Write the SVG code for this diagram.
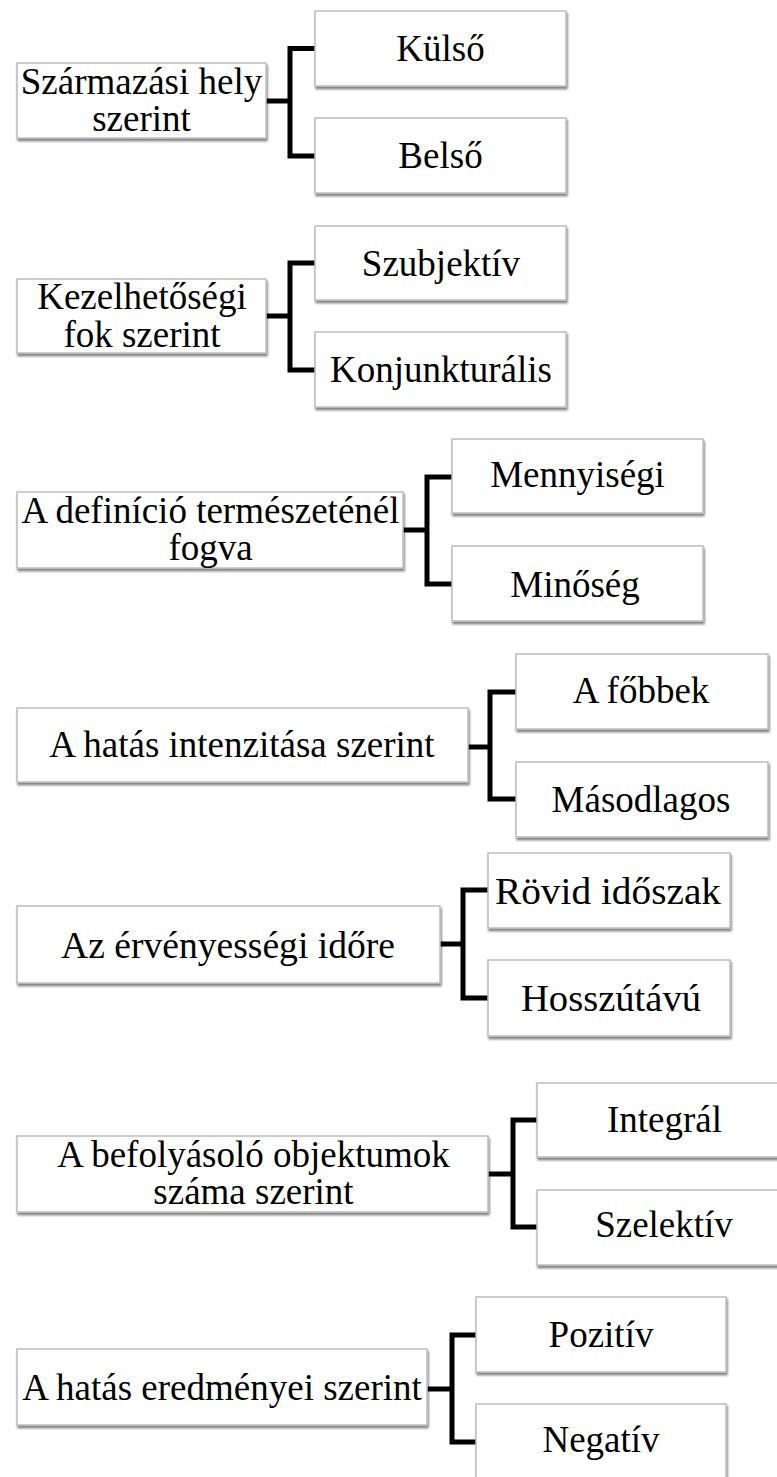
<svg xmlns="http://www.w3.org/2000/svg" width="777" height="1477" viewBox="0 0 777 1477">
<defs>
<filter id="sh" x="-5%" y="-10%" width="110%" height="130%">
<feDropShadow dx="1" dy="2.5" stdDeviation="1.3" flood-color="#000" flood-opacity="0.5"/>
</filter>
<style>
.box{fill:#fff;stroke:#bcbcbc;stroke-width:1.5;filter:url(#sh)}
.t{font-family:"Liberation Serif","Times New Roman",serif;font-size:37px;fill:#000;text-anchor:middle}
.c{fill:none;stroke:#000;stroke-width:5;stroke-linejoin:miter}
</style>
</defs>
<rect width="777" height="1477" fill="#fff"/>
<g id="connectors">
<path class="c" d="M266 101H290M315 48.5H290V156H315"/>
<path class="c" d="M266 316H290M315 263H290V370H315"/>
<path class="c" d="M403 530H427M452 477H427V584H452"/>
<path class="c" d="M468 747H490M516 692H490V799H516"/>
<path class="c" d="M440 944H463M488 890H463V998H488"/>
<path class="c" d="M488 1174H513M537 1120H513V1227H537"/>
<path class="c" d="M427 1389H452M476 1335H452V1442H476"/>
</g>
<g id="n1"><rect class="box" x="17" y="63" width="249" height="75"/><text class="t" x="141.5" y="94">Származási hely</text><text class="t" x="141.5" y="131">szerint</text></g>
<g id="n1a"><rect class="box" x="315" y="11" width="251" height="75"/><text class="t" x="440.5" y="61">Külső</text></g>
<g id="n1b"><rect class="box" x="315" y="118" width="251" height="75"/><text class="t" x="440.5" y="168">Belső</text></g>
<g id="n2"><rect class="box" x="17" y="279" width="249" height="74"/><text class="t" x="142" y="309">Kezelhetőségi</text><text class="t" x="142" y="347">fok szerint</text></g>
<g id="n2a"><rect class="box" x="315" y="226" width="251" height="74"/><text class="t" x="441" y="276">Szubjektív</text></g>
<g id="n2b"><rect class="box" x="315" y="332" width="251" height="75"/><text class="t" x="441" y="382">Konjunkturális</text></g>
<g id="n3"><rect class="box" x="17" y="492" width="386" height="76"/><text class="t" x="210.5" y="523">A definíció természeténél</text><text class="t" x="210.5" y="560">fogva</text></g>
<g id="n3a"><rect class="box" x="452" y="439" width="251" height="74"/><text class="t" x="577.5" y="487">Mennyiségi</text></g>
<g id="n3b"><rect class="box" x="452" y="546" width="251" height="75"/><text class="t" x="575" y="597">Minőség</text></g>
<g id="n4"><rect class="box" x="17" y="708" width="451" height="74"/><text class="t" x="242" y="757">A hatás intenzitása szerint</text></g>
<g id="n4a"><rect class="box" x="516" y="654" width="252" height="75"/><text class="t" x="641" y="703">A főbbek</text></g>
<g id="n4b"><rect class="box" x="516" y="762" width="252" height="75"/><text class="t" x="641" y="812">Másodlagos</text></g>
<g id="n5"><rect class="box" x="17" y="906" width="423" height="77"/><text class="t" x="228" y="958" textLength="334" lengthAdjust="spacingAndGlyphs">Az érvényességi időre</text></g>
<g id="n5a"><rect class="box" x="488" y="853" width="242" height="75"/><text class="t" x="608" y="904" textLength="226" lengthAdjust="spacingAndGlyphs">Rövid időszak</text></g>
<g id="n5b"><rect class="box" x="488" y="960" width="242" height="76"/><text class="t" x="611" y="1011" textLength="180" lengthAdjust="spacingAndGlyphs">Hosszútávú</text></g>
<g id="n6"><rect class="box" x="17" y="1136" width="471" height="76"/><text class="t" x="253.5" y="1167">A befolyásoló objektumok</text><text class="t" x="253.5" y="1204">száma szerint</text></g>
<g id="n6a"><rect class="box" x="537" y="1083" width="250" height="74"/><text class="t" x="664.5" y="1132">Integrál</text></g>
<g id="n6b"><rect class="box" x="537" y="1190" width="250" height="75"/><text class="t" x="664" y="1237">Szelektív</text></g>
<g id="n7"><rect class="box" x="17" y="1349" width="410" height="76"/><text class="t" x="222" y="1400">A hatás eredményei szerint</text></g>
<g id="n7a"><rect class="box" x="476" y="1297" width="250" height="75"/><text class="t" x="601" y="1347">Pozitív</text></g>
<g id="n7b"><rect class="box" x="476" y="1404" width="250" height="76"/><text class="t" x="601" y="1452">Negatív</text></g>
</svg>
